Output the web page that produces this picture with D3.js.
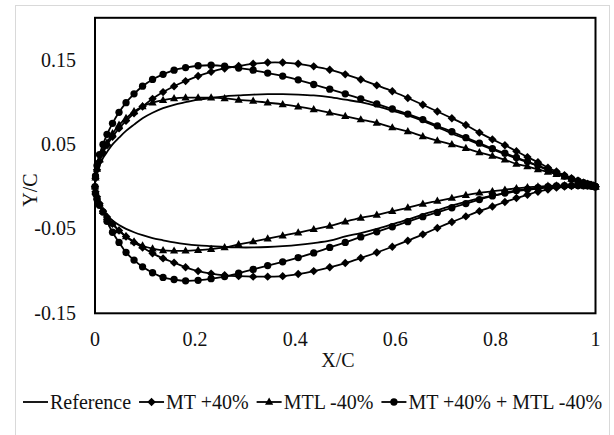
<!DOCTYPE html>
<html>
<head>
<meta charset="utf-8">
<script src="https://cdn.jsdelivr.net/npm/d3@7"></script>
<style>
  body { margin: 0; background: #fff; }
</style>
</head>
<body>
<div id="chartContainer"></div>
<script>
// chordwise stations shared by every series
var xStations = [0, 0.001, 0.004, 0.009, 0.016, 0.024, 0.035, 0.048, 0.062, 0.078, 0.095, 0.115, 0.136, 0.158, 0.181, 0.206, 0.232, 0.259, 0.287, 0.316, 0.345, 0.375, 0.406, 0.437, 0.469, 0.5, 0.531, 0.563, 0.594, 0.625, 0.655, 0.684, 0.713, 0.741, 0.768, 0.794, 0.819, 0.842, 0.864, 0.885, 0.905, 0.922, 0.938, 0.952, 0.965, 0.976, 0.984, 0.991, 0.996, 0.999, 1];

var refUpper = [0, 0.0084, 0.017, 0.025, 0.034, 0.041, 0.050, 0.058, 0.066, 0.0735, 0.081, 0.0875, 0.093, 0.097, 0.100, 0.103, 0.105, 0.107, 0.108, 0.109, 0.1095, 0.1095, 0.109, 0.108, 0.106, 0.103, 0.100, 0.0955, 0.090, 0.0845, 0.078, 0.0705, 0.063, 0.0565, 0.050, 0.044, 0.0385, 0.0335, 0.029, 0.0245, 0.0195, 0.0158, 0.0122, 0.0093, 0.0067, 0.0046, 0.0031, 0.0019, 0.001, 0.0004, 0];
var refLower = [0, -0.007, -0.0135, -0.021, -0.028, -0.034, -0.040, -0.0455, -0.050, -0.054, -0.0575, -0.061, -0.0635, -0.066, -0.068, -0.0695, -0.0705, -0.0715, -0.072, -0.072, -0.0715, -0.0705, -0.069, -0.0668, -0.064, -0.059, -0.055, -0.050, -0.0445, -0.039, -0.033, -0.028, -0.0225, -0.018, -0.014, -0.0108, -0.008, -0.0055, -0.0038, -0.0023, -0.001, -0.0003, 0.0003, 0.0007, 0.001, 0.001, 0.0009, 0.0007, 0.0004, 0.0002, 0];

var mtUpper = [0, 0.010, 0.020, 0.030, 0.040, 0.049, 0.059, 0.069, 0.078, 0.087, 0.095, 0.104, 0.112, 0.119, 0.125, 0.131, 0.136, 0.140, 0.143, 0.1455, 0.147, 0.147, 0.1455, 0.1425, 0.1385, 0.133, 0.127, 0.120, 0.113, 0.105, 0.097, 0.089, 0.081, 0.073, 0.064, 0.056, 0.049, 0.042, 0.035, 0.029, 0.0225, 0.018, 0.0135, 0.010, 0.007, 0.0045, 0.003, 0.002, 0.001, 0.0003, 0];
var mtLower = [0, -0.006, -0.012, -0.020, -0.029, -0.036, -0.044, -0.052, -0.059, -0.066, -0.072, -0.079, -0.085, -0.090, -0.0955, -0.100, -0.103, -0.105, -0.106, -0.1066, -0.1066, -0.106, -0.1035, -0.100, -0.0955, -0.0905, -0.0845, -0.078, -0.0712, -0.064, -0.0565, -0.049, -0.0418, -0.0352, -0.029, -0.0235, -0.0182, -0.0135, -0.0096, -0.006, -0.0033, -0.0012, 0, 0.0008, 0.0012, 0.0013, 0.0012, 0.0009, 0.0005, 0.0002, 0];

var mtlUpper = [0, 0.0106, 0.021, 0.032, 0.042, 0.052, 0.063, 0.073, 0.081, 0.089, 0.095, 0.0995, 0.1025, 0.1045, 0.1054, 0.1055, 0.1054, 0.1045, 0.1028, 0.1015, 0.0995, 0.0975, 0.0948, 0.0915, 0.0875, 0.0835, 0.0795, 0.0755, 0.070, 0.0655, 0.0595, 0.0545, 0.050, 0.0455, 0.0405, 0.0365, 0.0318, 0.027, 0.024, 0.0205, 0.0175, 0.0148, 0.0118, 0.0091, 0.0067, 0.0047, 0.0032, 0.002, 0.001, 0.0004, 0];
var mtlLower = [0, -0.006, -0.012, -0.020, -0.029, -0.036, -0.044, -0.052, -0.059, -0.065, -0.070, -0.0735, -0.0755, -0.076, -0.076, -0.0752, -0.074, -0.072, -0.0685, -0.065, -0.0615, -0.058, -0.0545, -0.0505, -0.0465, -0.0415, -0.037, -0.0335, -0.029, -0.025, -0.0205, -0.017, -0.0135, -0.010, -0.0073, -0.0055, -0.0037, -0.002, -0.0008, 0, 0.001, 0.0013, 0.0016, 0.0016, 0.0016, 0.0014, 0.0012, 0.0009, 0.0005, 0.0002, 0];

var comboUpper = [0, 0.0127, 0.025, 0.038, 0.050, 0.062, 0.075, 0.088, 0.0995, 0.110, 0.119, 0.127, 0.133, 0.138, 0.141, 0.1432, 0.1438, 0.1428, 0.1405, 0.138, 0.1345, 0.131, 0.1265, 0.121, 0.1155, 0.110, 0.104, 0.098, 0.092, 0.086, 0.0795, 0.072, 0.065, 0.058, 0.0515, 0.045, 0.0397, 0.0345, 0.0297, 0.025, 0.0204, 0.0164, 0.0125, 0.0091, 0.0067, 0.0048, 0.0033, 0.002, 0.001, 0.0004, 0];
var comboLower = [0, -0.008, -0.015, -0.022, -0.030, -0.041, -0.054, -0.066, -0.078, -0.087, -0.095, -0.102, -0.1075, -0.110, -0.1115, -0.111, -0.109, -0.1065, -0.1025, -0.098, -0.0935, -0.089, -0.084, -0.0785, -0.072, -0.066, -0.0595, -0.0535, -0.0475, -0.0415, -0.0355, -0.0305, -0.025, -0.020, -0.0153, -0.011, -0.0075, -0.0045, -0.003, -0.0012, 0, 0.0008, 0.0012, 0.0013, 0.0013, 0.0012, 0.001, 0.0007, 0.0004, 0.0002, 0];

var seriesNames = ["Reference", "MT +40%", "MTL -40%", "MT +40% + MTL -40%"];
var seriesMarkers = ["none", "diamond", "triangle", "circle"];

var xTicks = [0, 0.2, 0.4, 0.6, 0.8, 1];
var xTickLabels = ["0", "0.2", "0.4", "0.6", "0.8", "1"];
var yTicks = [-0.15, -0.05, 0.05, 0.15];
var yTickLabels = ["-0.15", "-0.05", "0.05", "0.15"];

// trailing edge -> leading edge along the upper side, then back along the lower side
function outline(upper, lower) {
    var pts = [];
    for (var i = xStations.length - 1; i >= 0; i--) pts.push([xStations[i], upper[i]]);
    for (var j = 1; j < xStations.length; j++) pts.push([xStations[j], lower[j]]);
    return pts;
}

var series = [
    outline(refUpper, refLower),
    outline(mtUpper, mtLower),
    outline(mtlUpper, mtlLower),
    outline(comboUpper, comboLower)
];

var W = 614, H = 435;
var plot = { left: 95, right: 595.5, top: 17.8, bottom: 313.3 };

var svg = d3.select("body")
    .append("svg")
    .attr("width", W)
    .attr("height", H);

svg.append("rect")
    .attr("width", W).attr("height", H)
    .attr("fill", "#fff");

svg.append("rect")
    .attr("x", 15.5).attr("y", 5.5)
    .attr("width", 594).attr("height", 450)
    .attr("fill", "#fff")
    .attr("stroke", "#d9d9d9")
    .attr("stroke-width", 1);

var x = d3.scaleLinear().domain([0, 1]).range([plot.left, plot.right]);
var y = d3.scaleLinear().domain([-0.15, 0.2]).range([plot.bottom, plot.top]);

function label(sel) {
    sel.style("font-family", "'Liberation Serif'")
        .style("font-size", "20px")
        .attr("fill", "#111");
}

// x-axis labels
svg.append("g").selectAll("text")
    .data(xTicks)
    .enter().append("text")
    .attr("x", function (d) { return x(d); })
    .attr("y", plot.bottom + 33)
    .attr("text-anchor", "middle")
    .text(function (d, i) { return xTickLabels[i]; })
    .call(label);

// y-axis labels
svg.append("g").selectAll("text")
    .data(yTicks)
    .enter().append("text")
    .attr("x", plot.left - 19)
    .attr("y", function (d) { return y(d) + 6.5; })
    .attr("text-anchor", "end")
    .text(function (d, i) { return yTickLabels[i]; })
    .call(label);

svg.append("text")
    .attr("x", 338)
    .attr("y", 367)
    .attr("text-anchor", "middle")
    .text("X/C")
    .call(label);

svg.append("text")
    .attr("transform", "translate(37,190) rotate(-90)")
    .attr("text-anchor", "middle")
    .text("Y/C")
    .call(label);

function markerPath(type) {
    if (type === "diamond") return "M0,-4.2L4.2,0L0,4.2L-4.2,0Z";
    if (type === "triangle") return "M0,-4.4L4.1,2.8L-4.1,2.8Z";
    if (type === "circle") return d3.symbol().type(d3.symbolCircle).size(42)();
    return null;
}

var line = d3.line()
    .x(function (d) { return x(d[0]); })
    .y(function (d) { return y(d[1]); })
    .curve(d3.curveCatmullRom.alpha(0.5));

var gSeries = svg.append("g");

series.forEach(function (pts, i) {
    var g = gSeries.append("g");
    g.append("path")
        .attr("d", line(pts))
        .attr("fill", "none")
        .attr("stroke", "#000")
        .attr("stroke-width", 1.8);
    if (seriesMarkers[i] !== "none") {
        g.selectAll(".mk")
            .data(pts)
            .enter().append("path")
            .attr("class", "mk")
            .attr("d", markerPath(seriesMarkers[i]))
            .attr("transform", function (d) { return "translate(" + x(d[0]) + "," + y(d[1]) + ")"; })
            .attr("fill", "#000");
    }
});

// plot area border
svg.append("rect")
    .attr("x", plot.left).attr("y", plot.top)
    .attr("width", plot.right - plot.left)
    .attr("height", plot.bottom - plot.top)
    .attr("fill", "none")
    .attr("stroke", "#000")
    .attr("stroke-width", 2);

// legend
var legend = svg.append("g");
var cx = 23, ly = 402;
seriesNames.forEach(function (name, i) {
    legend.append("line")
        .attr("x1", cx).attr("x2", cx + 25)
        .attr("y1", ly).attr("y2", ly)
        .attr("stroke", "#000")
        .attr("stroke-width", 1.8);
    if (seriesMarkers[i] !== "none") {
        legend.append("path")
            .attr("d", markerPath(seriesMarkers[i]))
            .attr("transform", "translate(" + (cx + 12.5) + "," + ly + ")")
            .attr("fill", "#000");
    }
    var t = legend.append("text")
        .attr("x", cx + 27)
        .attr("y", ly + 7)
        .text(name)
        .call(label);
    cx = cx + 27 + t.node().getComputedTextLength() + 8;
});
</script>
</body>
</html>
